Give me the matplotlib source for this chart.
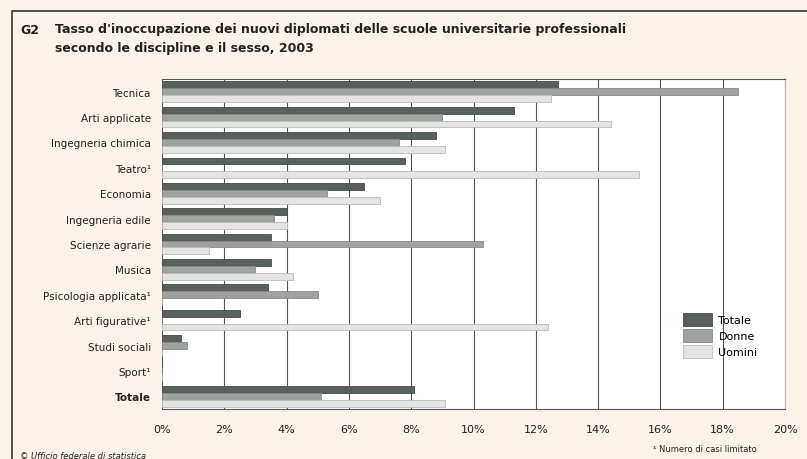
import matplotlib
matplotlib.use("Agg")
import matplotlib.pyplot as plt
import numpy as np
from matplotlib.patches import Rectangle

categories = ["Tecnica", "Arti applicate", "Ingegneria chimica", "Teatro¹", "Economia",
              "Ingegneria edile", "Scienze agrarie", "Musica", "Psicologia applicata¹",
              "Arti figurative¹", "Studi sociali", "Sport¹", "Totale"]
totale = [12.7, 11.3, 8.8, 7.8, 6.5, 4.0, 3.5, 3.5, 3.4, 2.5, 0.6, 0.0, 8.1]
donne  = [18.5, 9.0, 7.6, 0.0, 5.3, 3.6, 10.3, 3.0, 5.0, 0.0, 0.8, 0.0, 5.1]
uomini = [12.5, 14.4, 9.1, 15.3, 7.0, 4.0, 1.5, 4.2, 0.0, 12.4, 0.0, 0.0, 9.1]
series_names = ["Totale", "Donne", "Uomini"]
xticks = [0, 2, 4, 6, 8, 10, 12, 14, 16, 18, 20]

bg = "#fbf3ea"
colors = ["#57605b", "#9ea39f", "#e2e5e2"]
edges = ["#464d49", "#868b87", "#b9bcb9"]

fig = plt.figure(figsize=(8.07, 4.6), dpi=100, facecolor=bg)
ax = fig.add_axes([162/807, 1-410/460, (785-162)/807, (410-80)/460])
ax.set_facecolor("white")

n = len(categories)
y = np.arange(n)
h = 0.27
for i, (vals, c, e, name) in enumerate(zip([totale, donne, uomini], colors, edges, series_names)):
    ax.barh(y - h + i*h, vals, height=h, color=c, edgecolor=e, linewidth=0.6, label=name, zorder=3)

ax.set_ylim(n - 0.5, -0.5)
ax.set_xlim(0, 20)
ax.set_xticks(xticks)
ax.set_xticklabels([f"{t}%" for t in xticks], fontsize=8, color="#222222")
ax.set_yticks(y)
ax.set_yticklabels(categories, fontsize=7.5, color="#222222")
ax.get_yticklabels()[-1].set_fontweight("bold")
ax.tick_params(axis="x", length=0, pad=11)
ax.tick_params(axis="y", length=0, pad=8)
ax.xaxis.grid(True, color="#555555", linewidth=0.8, zorder=0)
ax.spines["left"].set_visible(False)
ax.spines["right"].set_color("#bbbbbb")
ax.spines["top"].set_color("#555555")
ax.spines["bottom"].set_color("#555555")

leg = ax.legend(loc="upper left", bbox_to_anchor=(0.82, 0.32), frameon=False, fontsize=8,
                handlelength=2.6, handleheight=1.3, labelspacing=0.35, handletextpad=0.6)

# Frame
fig.add_artist(Rectangle((12/807, -0.1), 1.2, 1 - 12/460 + 0.1, transform=fig.transFigure,
                         fill=False, edgecolor="#333333", linewidth=1.2))

fig.text(20/807, 1-30/460, "G2", fontsize=9, fontweight="bold", color="#222222", va="center")
fig.text(55/807, 1-30/460, "Tasso d'inoccupazione dei nuovi diplomati delle scuole universitarie professionali",
         fontsize=9, fontweight="bold", color="#222222", va="center")
fig.text(55/807, 1-49/460, "secondo le discipline e il sesso, 2003",
         fontsize=9, fontweight="bold", color="#222222", va="center")
fig.text(653/807, 1-450/460, "¹ Numero di casi limitato", fontsize=6, color="#222222", va="center")
fig.text(20/807, 1-457/460, "© Ufficio federale di statistica", fontsize=6, style="italic",
         color="#222222", va="center")

fig.savefig("out.png", dpi=100, facecolor=bg)
